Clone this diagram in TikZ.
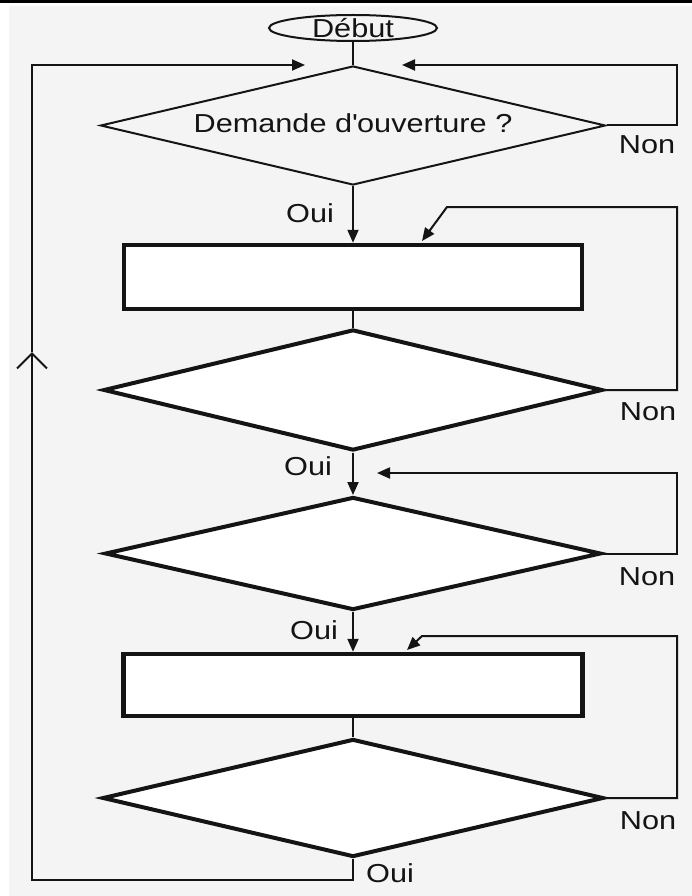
\documentclass[tikz,border=0pt]{standalone}
\usepackage{fontspec}
\setmainfont{Liberation Sans}[FakeStretch=1.18]
\usetikzlibrary{shapes.geometric,arrows.meta}
\definecolor{bg}{RGB}{244,244,244}
\definecolor{ink}{RGB}{20,20,20}
\begin{document}
\begin{tikzpicture}[x=1pt,y=-1pt,
  conn/.style={draw=ink, line width=2pt},
  arr/.style={conn, -{Triangle[length=13pt,width=11pt]}},
  thindia/.style={diamond, draw=ink, line width=2pt, inner sep=0pt, aspect=4},
  thickdia/.style={diamond, draw=ink, line width=4pt, fill=white, inner sep=0pt, aspect=4},
  box/.style={rectangle, draw=ink, line width=4.5pt, fill=white, inner sep=0pt},
  lbl/.style={font=\fontsize{26}{30}\selectfont, text=ink, inner sep=0pt}]
\useasboundingbox (0,0) rectangle (692,896);
\fill[white] (0,0) rectangle (692,896);
\fill[bg] (9,6) rectangle (692,896);
\fill[black] (0,0) rectangle (692,3);

% shapes
\node[ellipse, draw=ink, line width=2pt, minimum width=168pt, minimum height=26pt, inner sep=0pt,
      label={[lbl]center:{Début}}] (start) at (353,28) {};
\node[thindia, minimum width=505pt, minimum height=119pt,
      label={[lbl,yshift=2pt]center:{Demande d\textquotesingle ouverture ?}}] (d1) at (353,125.5) {};
\node[box, minimum width=458pt, minimum height=64pt] (r1) at (353,277) {};
\node[thickdia, minimum width=499pt, minimum height=121pt] (d2) at (353,390) {};
\node[thickdia, minimum width=496pt, minimum height=113pt] (d3) at (353,553.5) {};
\node[box, minimum width=459pt, minimum height=62pt] (r2) at (353,685) {};
\node[thickdia, minimum width=501pt, minimum height=118pt] (d4) at (353,798) {};

% helper coordinates
\coordinate (rx) at (677,0);
\coordinate (t0) at (305,65);
\coordinate (t1) at (402,65);
\coordinate (k1) at (447,207);
\coordinate (t2) at (422,241);
\coordinate (t3) at (377,473);
\coordinate (k2) at (422,636);
\coordinate (t4) at (407,650);
\coordinate (lb) at (353,880);
\coordinate (chev) at (32,352);

% main flow
\draw[conn] (start.south) -- (d1.north);
\draw[arr] (d1.south) -- (r1.north);
\draw[conn] (r1.south) -- (d2.north);
\draw[arr] (d2.south) -- (d3.north);
\draw[arr] (d3.south) -- (r2.north);
\draw[conn] (r2.south) -- (d4.north);

% loops
\draw[arr] (d1.east) -- (d1.east -| rx) |- (t1);
\draw[arr] (d2.east) -- (d2.east -| rx) |- (k1) -- (t2);
\draw[arr] (d3.east) -- (d3.east -| rx) |- (t3);
\draw[arr] (d4.east) -- (d4.east -| rx) |- (k2) -- (t4);
\draw[conn, -{Straight Barb[length=15pt,width=30pt]}] (d4.south) -- (d4.south |- lb) -| (chev);
\draw[arr] (chev) |- (t0);

% labels
\node[lbl] (non1) at (647,145) {Non};
\node[lbl] (non2) at (648,412) {Non};
\node[lbl] (non3) at (647,577) {Non};
\node[lbl] (non4) at (648,821) {Non};
\node[lbl] (oui1) at (310,213) {Oui};
\node[lbl] (oui2) at (308,466) {Oui};
\node[lbl] (oui3) at (314,630) {Oui};
\node[lbl] (oui4) at (390,873) {Oui};
\end{tikzpicture}
\end{document}
